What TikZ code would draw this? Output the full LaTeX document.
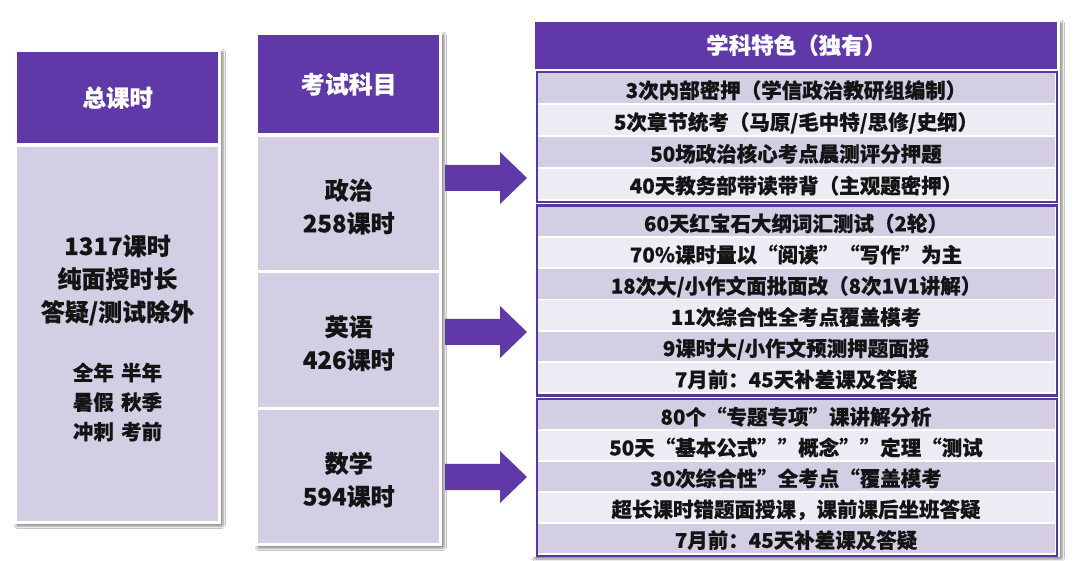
\documentclass[tikz,border=0pt]{standalone}
\usepackage{fontspec}
\setmainfont{Noto Sans CJK SC}[BoldFeatures={FakeBold=0.35}]
\usetikzlibrary{shadows.blur}
\definecolor{hdrpurple}{HTML}{6038A8}
\definecolor{grpborder}{HTML}{58389A}
\definecolor{lav}{HTML}{D3CEE4}
\definecolor{lavlight}{HTML}{EDEBF4}
\definecolor{inkc}{HTML}{141414}
\tikzset{
  panel/.style={fill=white, draw=none, inner sep=0pt, anchor=north west,
    blur shadow={shadow xshift=2pt, shadow yshift=-2pt, shadow blur steps=6, shadow blur extra rounding=1pt, shadow opacity=45}},
  hdrbox/.style={fill=hdrpurple, inner sep=0pt, anchor=north west, text=white,
    font=\bfseries\fontsize{23.5}{27}\selectfont},
  cellbox/.style={fill=lav, inner sep=0pt, anchor=north west},
  celltext/.style={text=inkc, align=center, font=\bfseries\fontsize{24}{33}\selectfont},
  grpbox/.style={draw=grpborder, line width=2.4pt, fill=white, inner sep=0pt, anchor=north west},
  rowbase/.style={inner sep=0pt, text=inkc, text height=19.5pt, text depth=0pt,
    font=\bfseries\fontsize{20.5}{24}\selectfont},
  rowdark/.style={rowbase, fill=lav},
  rowlight/.style={rowbase, fill=lavlight},
  bigtext/.style={text=inkc, align=center, font=\bfseries\fontsize{24}{33}\selectfont},
  midtext/.style={text=inkc, align=center, font=\bfseries\fontsize{20.5}{29.5}\selectfont},
  fatarrow/.style={fill=hdrpurple, draw=none}
}
\begin{document}
\begin{tikzpicture}[x=1pt,y=-1pt]
\useasboundingbox (0,0) rectangle (1080,561);
\fill[white] (0,0) rectangle (1080,561);

% ---------- left panel ----------
\node[panel, minimum width=207pt, minimum height=475pt] (leftp) at (14,49) {};
\node[hdrbox, minimum width=201pt, minimum height=91pt] (lefth) at (17,52) {总课时};
\node[cellbox, minimum width=201pt, minimum height=374pt] (leftb) at (17,147) {};
\node[bigtext] (lt1) at (117.5,280) {1317课时\\纯面授时长\\答疑/测试除外};
\node[midtext] (lt2) at (117.5,402) {全年\hspace{0.35em}半年\\暑假\hspace{0.35em}秋季\\冲刺\hspace{0.35em}考前};

% ---------- middle panel ----------
\node[panel, minimum width=187pt, minimum height=514pt] (midp) at (255,32) {};
\node[hdrbox, minimum width=181pt, minimum height=98pt, font=\bfseries\fontsize{24}{28}\selectfont] (midh) at (258,35) {考试科目};
\node[cellbox, minimum width=181pt, minimum height=133pt] (c1) at (258,137) {};
\node[cellbox, minimum width=181pt, minimum height=134pt] (c2) at (258,273) {};
\node[cellbox, minimum width=181pt, minimum height=133pt] (c3) at (258,410) {};
\node[celltext, yshift=-3pt] (t1) at (c1.center) {政治\\258课时};
\node[celltext, yshift=-3pt] (t2) at (c2.center) {英语\\426课时};
\node[celltext, yshift=-3pt] (t3) at (c3.center) {数学\\594课时};

% ---------- right panel ----------
\node[panel, minimum width=528pt, minimum height=537pt] (rightp) at (532,20) {};
\node[hdrbox, minimum width=522pt, minimum height=47pt, font=\bfseries\fontsize{22.5}{26}\selectfont] (righth) at (535,21.5) {学科特色（独有）};

\node[grpbox, minimum width=520pt, minimum height=130pt] (g1) at (536,71) {};
\node[grpbox, minimum width=520pt, minimum height=190pt] (g2) at (536,204.5) {};
\node[grpbox, minimum width=520pt, minimum height=157pt] (g3) at (536,398) {};

% rows: group 1
\foreach \i/\txt/\sty in {0/{3次内部密押（学信政治教研组编制）}/rowdark,
                          1/{5次章节统考（马原/毛中特/思修/史纲）}/rowlight,
                          2/{50场政治核心考点晨测评分押题}/rowdark,
                          3/{40天教务部带读带背（主观题密押）}/rowlight}{
  \pgfmathsetmacro{\yc}{72.4+31.8*\i+15.9}
  \node[\sty, minimum width=517pt, minimum height=30pt] (ra\i) at (796,\yc) {\txt};
}
% rows: group 2
\foreach \i/\txt/\sty in {0/{60天红宝石大纲词汇测试（2轮）}/rowdark,
                          1/{70\%课时量以“阅读”“写作”为主}/rowlight,
                          2/{18次大/小作文面批面改（8次1V1讲解）}/rowdark,
                          3/{11次综合性全考点覆盖模考}/rowlight,
                          4/{9课时大/小作文预测押题面授}/rowdark,
                          5/{7月前：45天补差课及答疑}/rowlight}{
  \pgfmathsetmacro{\yc}{205.9+31.2*\i+15.6}
  \node[\sty, minimum width=517pt, minimum height=29.5pt] (rb\i) at (796,\yc) {\txt};
}
% rows: group 3
\foreach \i/\txt/\sty in {0/{80个“专题专项”课讲解分析}/rowdark,
                          1/{50天“基本公式””概念””定理“测试}/rowlight,
                          2/{30次综合性”全考点“覆盖模考}/rowdark,
                          3/{超长课时错题面授课，课前课后坐班答疑}/rowlight,
                          4/{7月前：45天补差课及答疑}/rowdark}{
  \pgfmathsetmacro{\yc}{399.4+30.84*\i+15.42}
  \node[\sty, minimum width=517pt, minimum height=29.1pt] (rc\i) at (796,\yc) {\txt};
}

% ---------- arrows ----------
\coordinate (a1) at (445,178);
\coordinate (a2) at (445,332);
\coordinate (a3) at (445,477);
\foreach \a in {a1,a2,a3}{
  \fill[fatarrow] (\a) ++(0,-13) -- ++(55,0) -- ++(0,-13) -- ++(27,26) -- ++(-27,26)
     -- ++(0,-13) -- ++(-55,0) -- cycle;
}
\end{tikzpicture}
\end{document}
